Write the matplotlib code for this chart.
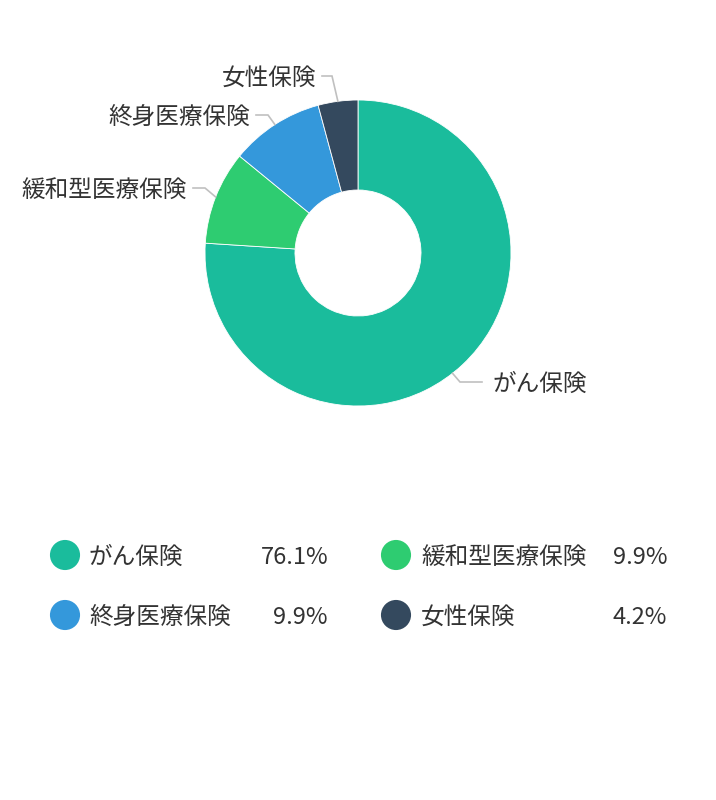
import numpy as np
import matplotlib
matplotlib.use("Agg")
import matplotlib.pyplot as plt

plt.rcParams['font.family'] = ['Noto Sans CJK JP', 'DejaVu Sans']

# ------------------------
# データ
# ------------------------
names = ["がん保険", "緩和型医療保険", "終身医療保険", "女性保険"]
shares = [76.1, 9.9, 9.9, 4.2]
colors = ["#1abc9c", "#2ecc71", "#3498db", "#34495e"]

# ------------------------
# レイアウト (ピクセル, 上が y=0)
# ------------------------
W, H = 716, 800
cx, cy = 358, 253
r_out, r_in = 153, 63
# ラベル線の折れ点と水平線の終点
elbows = [(460, 382), (205, 188), (268, 115), (332, 76)]
ends = [482, 193, 256, 322]
angle_shift = [-5, 0, 0, 0]
text_col = "#333333"
line_col = "#c0c0c0"
fs = 17
dy = 2  # 文字の縦位置補正

fig = plt.figure(figsize=(W / 100, H / 100), dpi=100)
ax = fig.add_axes([0, 0, 1, 1])


def fy(y):
    return H - y


ax.pie(shares, colors=colors, startangle=90, counterclock=False,
       center=(cx, fy(cy)), radius=r_out, frame=True,
       wedgeprops=dict(width=r_out - r_in, edgecolor="white", linewidth=0.6))

# ラベル線
total = sum(shares)
start = 90.0
for i, v in enumerate(shares):
    span = v / total * 360
    mid = np.deg2rad(start - span / 2 + angle_shift[i])
    start -= span
    sx = cx + r_out * np.cos(mid)
    sy = cy - r_out * np.sin(mid)
    ex, ey = elbows[i]
    ax.plot([sx, ex, ends[i]], [fy(sy), fy(ey), fy(ey)], color=line_col, lw=1.2,
            solid_joinstyle="miter")
    if ends[i] > ex:
        ax.text(ends[i] + 10, fy(ey + dy), names[i], ha="left", va="center",
                fontsize=fs, color=text_col)
    else:
        ax.text(ends[i] - 6, fy(ey + dy), names[i], ha="right", va="center",
                fontsize=fs, color=text_col)

# 凡例
leg_x = [65, 396]
leg_name_x = [89, 421]
leg_pct_x = [328, 667]
leg_y = [555, 615]
for i, (n, v, c) in enumerate(zip(names, shares, colors)):
    col, row = i % 2, i // 2
    ax.scatter([leg_x[col]], [fy(leg_y[row])], s=470, color=c, zorder=3,
               edgecolors="none")
    ax.text(leg_name_x[col], fy(leg_y[row] + dy), n, ha="left", va="center",
            fontsize=fs, color=text_col)
    ax.text(leg_pct_x[col], fy(leg_y[row] + dy), f"{v:.1f}%", ha="right", va="center",
            fontsize=fs, color=text_col)

ax.set_xlim(0, W)
ax.set_ylim(0, H)
ax.set_aspect("equal")
ax.axis("off")

fig.savefig("out.png", dpi=100, facecolor="white")
